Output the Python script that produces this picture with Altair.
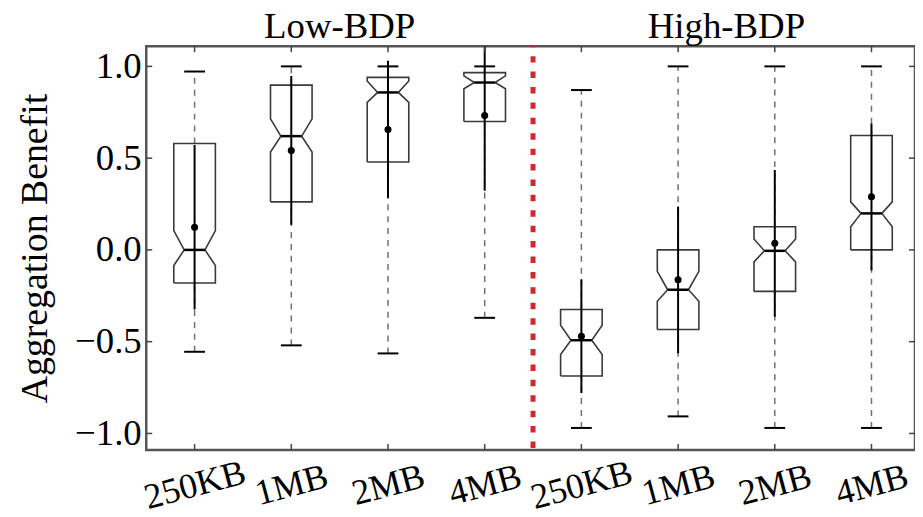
import json
import altair as alt
import pandas as pd

# ---------------- data ----------------
labels = ["250KB", "1MB", "2MB", "4MB", "250KB", "1MB", "2MB", "4MB"]
groups = ["Low-BDP"] * 4 + ["High-BDP"] * 4
group_names = ["Low-BDP", "High-BDP"]

whislo   = [-0.555, -0.52, -0.564, -0.37, -0.97, -0.907, -0.97, -0.97]
q1       = [-0.18, 0.262, 0.479, 0.700, -0.687, -0.434, -0.226, 0.000]
notch_lo = [-0.085, 0.533, 0.804, 0.878, -0.570, -0.280, -0.065, 0.126]
median   = [0.000, 0.620, 0.858, 0.912, -0.492, -0.217, -0.005, 0.199]
notch_hi = [0.105, 0.714, 0.920, 0.948, -0.410, -0.117, 0.060, 0.262]
q3       = [0.580, 0.898, 0.940, 0.966, -0.325, 0.000, 0.126, 0.623]
whishi   = [0.972, 1.000, 1.000, 1.000, 0.871, 1.000, 1.000, 1.000]
mean     = [0.123, 0.542, 0.656, 0.732, -0.470, -0.163, 0.036, 0.289]
std      = [0.448, 0.405, 0.375, 0.410, 0.310, 0.400, 0.400, 0.400]

y_ticks = [-1.0, -0.5, 0.0, 0.5, 1.0]

# ---------------- layout / style ----------------
W, H = 773, 406
BOX_W = 0.43
FONT = "Liberation Serif"
positions = list(range(1, len(labels) + 1))

xs = alt.Scale(domain=[0.5, 8.45], nice=False, zero=False)
ys = alt.Scale(domain=[-1.09, 1.11], nice=False, zero=False)

stats = pd.DataFrame({
    "pos": positions, "label": labels, "group": groups,
    "whislo": whislo, "q1": q1, "med": median, "q3": q3, "whishi": whishi,
    "mean": mean,
})
stats["mlo"] = [m - s for m, s in zip(mean, std)]
stats["mhi"] = [m + s for m, s in zip(mean, std)]
stats["capl"] = stats["pos"] - BOX_W / 4
stats["capr"] = stats["pos"] + BOX_W / 4
stats["cl"] = stats["pos"] - BOX_W / 4
stats["cr"] = stats["pos"] + BOX_W / 4

rows = []
for i, p in enumerate(positions):
    xl, xr = p - BOX_W / 2, p + BOX_W / 2
    cl, cr = p - BOX_W / 4, p + BOX_W / 4
    pts = [(xl, q1[i]), (xl, notch_lo[i]), (cl, median[i]), (xl, notch_hi[i]),
           (xl, q3[i]), (xr, q3[i]), (xr, notch_hi[i]), (cr, median[i]),
           (xr, notch_lo[i]), (xr, q1[i]), (xl, q1[i])]
    for k, (x, y) in enumerate(pts):
        rows.append({"box": i, "k": k, "x": x, "y": y})
outline = pd.DataFrame(rows)

x_axis = alt.Axis(
    values=positions,
    labelExpr=f"{json.dumps(labels)}[datum.value - 1]",
    labelAngle=345, labelAlign="center", labelBaseline="middle",
    labelPadding=35, labelFontSize=36, labelFont=FONT, labelColor="black",
    labelOverlap=False, labelFlush=False, labelBound=False,
    ticks=False, tickSize=0, domain=False, grid=False, title=None,
)
y_axis = alt.Axis(
    values=y_ticks, format=".1f",
    labelFontSize=37, labelFont=FONT, labelColor="black", labelPadding=5,
    labelFlush=False, labelOverlap=False,
    ticks=False, tickSize=0, domain=False, grid=False,
    title="Aggregation Benefit", titleFont=FONT, titleFontSize=38,
    titleFontWeight="normal", titleColor="black",
    titleX=-111, titleY=H / 2, titleAngle=270, titleAlign="center",
    titleBaseline="middle",
)


def X(field):
    return alt.X(field, scale=xs, axis=x_axis)


def Y(field):
    return alt.Y(field, scale=ys, axis=y_axis)


base = alt.Chart(stats)

whisk_hi = base.mark_rule(color="#707070", strokeDash=[6, 6], strokeWidth=1.5).encode(
    x=X("pos:Q"), y=Y("q3:Q"), y2="whishi:Q")
whisk_lo = base.mark_rule(color="#707070", strokeDash=[6, 6], strokeWidth=1.5).encode(
    x=X("pos:Q"), y=Y("whislo:Q"), y2="q1:Q")
cap_hi = base.mark_rule(color="black", strokeWidth=2).encode(
    x=X("capl:Q"), x2="capr:Q", y=Y("whishi:Q"))
cap_lo = base.mark_rule(color="black", strokeWidth=2).encode(
    x=X("capl:Q"), x2="capr:Q", y=Y("whislo:Q"))
boxes = alt.Chart(outline).mark_line(color="#3a3a3a", strokeWidth=1.6).encode(
    x=X("x:Q"), y=Y("y:Q"), detail="box:N", order="k:Q")
med_line = base.mark_rule(color="black", strokeWidth=2.5).encode(
    x=X("cl:Q"), x2="cr:Q", y=Y("med:Q"))
sd_line = base.mark_rule(color="black", strokeWidth=2, clip=True).encode(
    x=X("pos:Q"), y=Y("mlo:Q"), y2="mhi:Q")
mean_dot = base.mark_point(filled=True, color="black", size=50, opacity=1).encode(
    x=X("pos:Q"), y=Y("mean:Q"))

# separator between groups
sep_df = pd.DataFrame({"x": [(positions[3] + positions[4]) / 2]})
sep = alt.Chart(sep_df).mark_rule(
    color="#d0282e", strokeWidth=5, strokeDash=[6.5, 9], strokeDashOffset=5.5
).encode(x=X("x:Q"), y=alt.value(0), y2=alt.value(H))

# inward ticks on all four sides
yt = pd.DataFrame({"v": y_ticks})
xt = pd.DataFrame({"p": positions})
tick_style = dict(color="#444444", strokeWidth=1.5)
t_left = alt.Chart(yt).mark_rule(**tick_style).encode(
    y=Y("v:Q"), x=alt.value(0), x2=alt.value(6))
t_right = alt.Chart(yt).mark_rule(**tick_style).encode(
    y=Y("v:Q"), x=alt.value(W - 6), x2=alt.value(W))
t_bottom = alt.Chart(xt).mark_rule(**tick_style).encode(
    x=X("p:Q"), y=alt.value(H - 6), y2=alt.value(H))
t_top = alt.Chart(xt).mark_rule(**tick_style).encode(
    x=X("p:Q"), y=alt.value(0), y2=alt.value(6))

# group titles centred over each group
gt = pd.DataFrame({
    "name": group_names,
    "x": [sum(p for p, g in zip(positions, groups) if g == n) /
          sum(1 for g in groups if g == n) for n in group_names],
})
titles = alt.Chart(gt).mark_text(
    font=FONT, fontSize=37, baseline="alphabetic", align="center", color="black"
).encode(x=X("x:Q"), y=alt.value(-8), text="name:N")

chart = alt.layer(
    whisk_hi, whisk_lo, cap_hi, cap_lo, boxes, med_line, sd_line, mean_dot,
    sep, t_left, t_right, t_bottom, t_top, titles,
).properties(
    width=W, height=H,
    autosize=alt.AutoSizeParams(type="none"),
    padding={"left": 139, "top": 37, "right": 0, "bottom": 66},
).configure_view(
    stroke="#555555", strokeWidth=2.5
)

chart.save("out.html", embed_options={"renderer": "svg", "actions": False})
